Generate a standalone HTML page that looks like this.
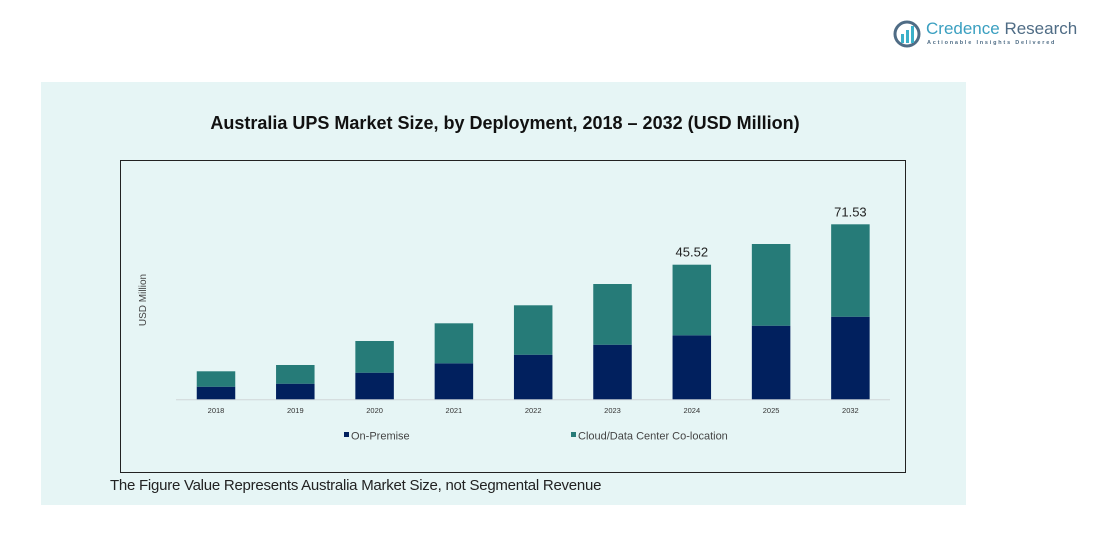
<!DOCTYPE html>
<html><head><meta charset="utf-8"><style>
body{margin:0;width:1117px;height:558px;background:#fff;position:relative;overflow:hidden;font-family:"Liberation Sans",sans-serif}
.abs{position:absolute}
</style></head><body>
<div class="abs" style="left:893px;top:18px;width:180px;height:32px">
<svg width="28" height="28" style="position:absolute;left:0;top:2px"><circle cx="14" cy="14" r="12" fill="none" stroke="#4f6c85" stroke-width="3"/><rect x="8" y="14" width="3" height="9" fill="#3bb0c9"/><rect x="13" y="10" width="3" height="13" fill="#3bb0c9"/><rect x="18" y="6" width="3" height="17" fill="#3bb0c9"/></svg>
<div class="abs" style="left:33px;top:1px;font-size:17px;color:#3a9fc0;white-space:nowrap">Credence <span style="color:#4f6c85">Research</span></div>
<div class="abs" style="left:34px;top:22px;font-size:5.5px;letter-spacing:1.8px;color:#4f6c85;white-space:nowrap;font-weight:bold">Actionable Insights Delivered</div>
</div>
<div class="abs" style="left:41px;top:82px;width:925px;height:423px;background:#e6f5f5"></div>
<div class="abs" style="left:120px;top:113px;width:770px;text-align:center;font-size:18px;font-weight:bold;color:#111">Australia UPS Market Size, by Deployment, 2018 – 2032 (USD Million)</div>
<div class="abs" style="left:120px;top:160px;width:784px;height:311px;border:1px solid #222"></div>
<svg class="abs" style="left:0;top:0" width="1117" height="558" id="chart"></svg>
<div class="abs" style="left:110px;top:477px;font-size:15px;color:#222;letter-spacing:-0.25px">The Figure Value Represents Australia Market Size, not Segmental Revenue</div>
<script>
const categories=["2018","2019","2020","2021","2022","2023","2024","2025","2032"];
const onPremise=[4.26,5.28,9.00,12.17,15.08,18.46,21.64,24.89,27.93];
const cloud=[5.21,6.32,10.72,13.53,16.71,20.53,23.88,27.63,31.25];
const totalLabels=["","","","","","","45.52","","71.53"];
const NS="http://www.w3.org/2000/svg";
const svg=document.getElementById('chart');
const base=399.3,k=2.957,x0=216,step=79.3,bw=38.5;
const xs=i=>x0+i*step;
const ys=v=>v*k;
function mk(t,a){const e=document.createElementNS(NS,t);for(const n in a)e.setAttribute(n,a[n]);svg.appendChild(e);return e;}
const ax=mk('line',{x1:176,x2:890,y1:base+0.5,y2:base+0.5,stroke:'#d0d6d8','stroke-width':1});


categories.forEach((c,i)=>{
 const h1=ys(onPremise[i]),h2=ys(cloud[i]);
 const r1=mk('rect',{x:xs(i)-bw/2,y:base-h1,width:bw,height:h1,fill:'#01205e'});
 
 
 const r2=mk('rect',{x:xs(i)-bw/2,y:base-h1-h2,width:bw,height:h2,fill:'#267b78'});
 
 
 const t=mk('text',{x:xs(i),y:413,'font-size':7.5,fill:'#333','text-anchor':'middle'});t.textContent=c;
 
 
 if(totalLabels[i]){const l=mk('text',{x:xs(i),y:base-h1-h2-8,'font-size':13,fill:'#222','text-anchor':'middle'});l.textContent=totalLabels[i];
 
 }
});
const yt=mk('text',{x:0,y:0,'font-size':10,fill:'#444','text-anchor':'middle',transform:'translate(146,300) rotate(-90)'});yt.textContent='USD Million';


[[344,'#01205e','On-Premise'],[571,'#267b78','Cloud/Data Center Co-location']].forEach(([x,c,n])=>{
 const s=mk('rect',{x:x,y:432,width:5,height:5,fill:c});
 
 
 const t=mk('text',{x:x+7,y:439.5,'font-size':11,fill:'#444'});t.textContent=n;
 
 
});
</script>
</body></html>
